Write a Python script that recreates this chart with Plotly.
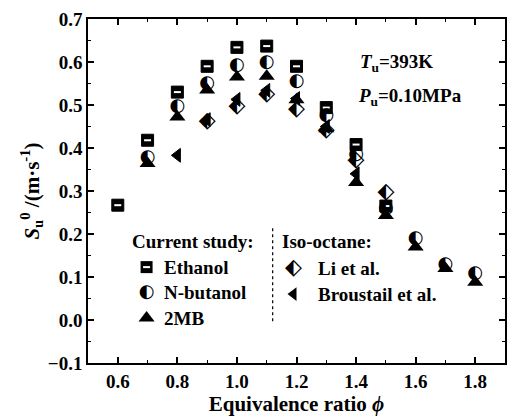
import plotly.graph_objects as go

phi_eth = [0.6, 0.7, 0.8, 0.9, 1.0, 1.1, 1.2, 1.3, 1.4, 1.5]
su_eth = [0.267, 0.418, 0.530, 0.590, 0.634, 0.637, 0.590, 0.494, 0.408, 0.265]

phi_but = [0.7, 0.8, 0.9, 1.0, 1.1, 1.2, 1.3, 1.4, 1.5, 1.6, 1.7, 1.8]
su_but = [0.378, 0.497, 0.550, 0.592, 0.598, 0.555, 0.476, 0.385, 0.260, 0.190, 0.128, 0.107]

phi_2mb = [0.7, 0.8, 0.9, 1.0, 1.1, 1.2, 1.3, 1.4, 1.5, 1.6, 1.7, 1.8]
su_2mb = [0.364, 0.472, 0.535, 0.565, 0.567, 0.512, 0.445, 0.320, 0.243, 0.170, 0.120, 0.088]

phi_li = [0.9, 1.0, 1.1, 1.2, 1.3, 1.4, 1.5]
su_li = [0.462, 0.496, 0.524, 0.490, 0.440, 0.370, 0.297]

phi_br = [0.8, 0.9, 1.0, 1.1, 1.2, 1.3, 1.4]
su_br = [0.383, 0.466, 0.513, 0.534, 0.515, 0.450, 0.340]

FONT = "Liberation Serif, Times New Roman, DejaVu Serif, serif"
SYMF = "DejaVu Sans"
fig = go.Figure()

# Ethanol: black square with white bar
fig.add_trace(go.Scatter(x=phi_eth, y=su_eth, mode="markers",
                         marker=dict(symbol="square", size=12, color="black",
                                     line=dict(color="black", width=1)),
                         showlegend=False))
fig.add_trace(go.Scatter(x=phi_eth, y=su_eth, mode="markers",
                         marker=dict(symbol="line-ew", size=5,
                                     line=dict(color="white", width=2)),
                         showlegend=False))
# N-butanol: half-filled circle
fig.add_trace(go.Scatter(x=phi_but, y=su_but, mode="text", text=["\u25D0"] * len(phi_but),
                         textposition="middle center",
                         textfont=dict(family=SYMF, size=18, color="black"),
                         showlegend=False))
# 2MB: filled triangle
fig.add_trace(go.Scatter(x=phi_2mb, y=su_2mb, mode="markers",
                         marker=dict(symbol="triangle-up", size=14, color="black"),
                         showlegend=False))
# Li et al.: half-filled diamond
fig.add_trace(go.Scatter(x=phi_li, y=su_li, mode="text", text=["\u2B16"] * len(phi_li),
                         textposition="middle center",
                         textfont=dict(family=SYMF, size=22, color="black"),
                         showlegend=False))
# Broustail et al.: left triangle
fig.add_trace(go.Scatter(x=phi_br, y=su_br, mode="markers",
                         marker=dict(symbol="triangle-left", size=12, color="black",
                                     line=dict(color="black", width=1)),
                         showlegend=False))

axis_common = dict(showline=True, linecolor="black", linewidth=1.5, mirror="ticks",
                   ticks="inside", ticklen=6, tickwidth=1.5, tickcolor="black",
                   showgrid=False, zeroline=False,
                   tickfont=dict(family=FONT, size=19, color="black", weight="bold"))

fig.update_xaxes(range=[0.5, 1.9], tick0=0.6, dtick=0.2, tickformat=".1f",
                 minor=dict(dtick=0.1, tick0=0.5, ticks="inside", ticklen=3, tickcolor="black", tickwidth=1.2),
                 title=dict(text="Equivalence ratio <i>\u03d5</i>", standoff=5,
                            font=dict(family=FONT, size=21, color="black", weight="bold")),
                 **axis_common)
fig.update_yaxes(range=[-0.1, 0.7], dtick=0.1, tickformat=".1f",
                 minor=dict(dtick=0.05, ticks="inside", ticklen=3, tickcolor="black", tickwidth=1.2),
                 title=dict(text="<i>S</i><sub>u</sub><sup>0</sup> /(m\u00b7s<sup>-1</sup>)", standoff=3,
                            font=dict(family=FONT, size=21, color="black", weight="bold")),
                 **axis_common)

def px2x(px):
    return (px - 88) / 300 + 0.5

def px2y(py):
    return (320 - py) / 431

ann = []
def txt(text, x, y, size=19, anchor="left"):
    ann.append(dict(text=text, x=x, y=y, xref="x", yref="y", showarrow=False,
                    xanchor=anchor, yanchor="middle",
                    font=dict(family=FONT, size=size, color="black", weight="bold")))

txt("<i>T</i><sub>u</sub>=393K", px2x(360), px2y(62))
txt("<i>P</i><sub>u</sub>=0.10MPa", px2x(358), px2y(96))
txt("Current study:", px2x(130), px2y(241))
txt("Ethanol", px2x(163), px2y(267))
txt("N-butanol", px2x(163), px2y(292))
txt("2MB", px2x(163), px2y(318))
txt("Iso-octane:", px2x(281), px2y(241))
txt("Li et al.", px2x(318), px2y(268))
txt("Broustail et al.", px2x(318), px2y(294))
fig.update_layout(annotations=ann)

# legend symbols
fig.add_trace(go.Scatter(x=[px2x(147)], y=[px2y(267)], mode="markers",
                         marker=dict(symbol="square", size=12, color="black"), showlegend=False))
fig.add_trace(go.Scatter(x=[px2x(147)], y=[px2y(267)], mode="markers",
                         marker=dict(symbol="line-ew", size=5, line=dict(color="white", width=2)), showlegend=False))
fig.add_trace(go.Scatter(x=[px2x(147)], y=[px2y(292)], mode="text", text=["\u25D0"],
                         textfont=dict(family=SYMF, size=18, color="black"), showlegend=False))
fig.add_trace(go.Scatter(x=[px2x(147)], y=[px2y(318)], mode="markers",
                         marker=dict(symbol="triangle-up", size=14, color="black"), showlegend=False))
fig.add_trace(go.Scatter(x=[px2x(295)], y=[px2y(268)], mode="text", text=["\u2B16"],
                         textfont=dict(family=SYMF, size=22, color="black"), showlegend=False))
fig.add_trace(go.Scatter(x=[px2x(295)], y=[px2y(294)], mode="markers",
                         marker=dict(symbol="triangle-left", size=12, color="black"), showlegend=False))

fig.add_shape(type="line", x0=px2x(274), x1=px2x(274), y0=px2y(228), y1=px2y(323),
              xref="x", yref="y", line=dict(color="black", width=1.2, dash="dot"))

fig.update_layout(width=509, height=419, margin=dict(l=88, r=2, t=19, b=56),
                  font=dict(family=FONT),
                  plot_bgcolor="white", paper_bgcolor="white", showlegend=False)

fig.write_html("out.html")
